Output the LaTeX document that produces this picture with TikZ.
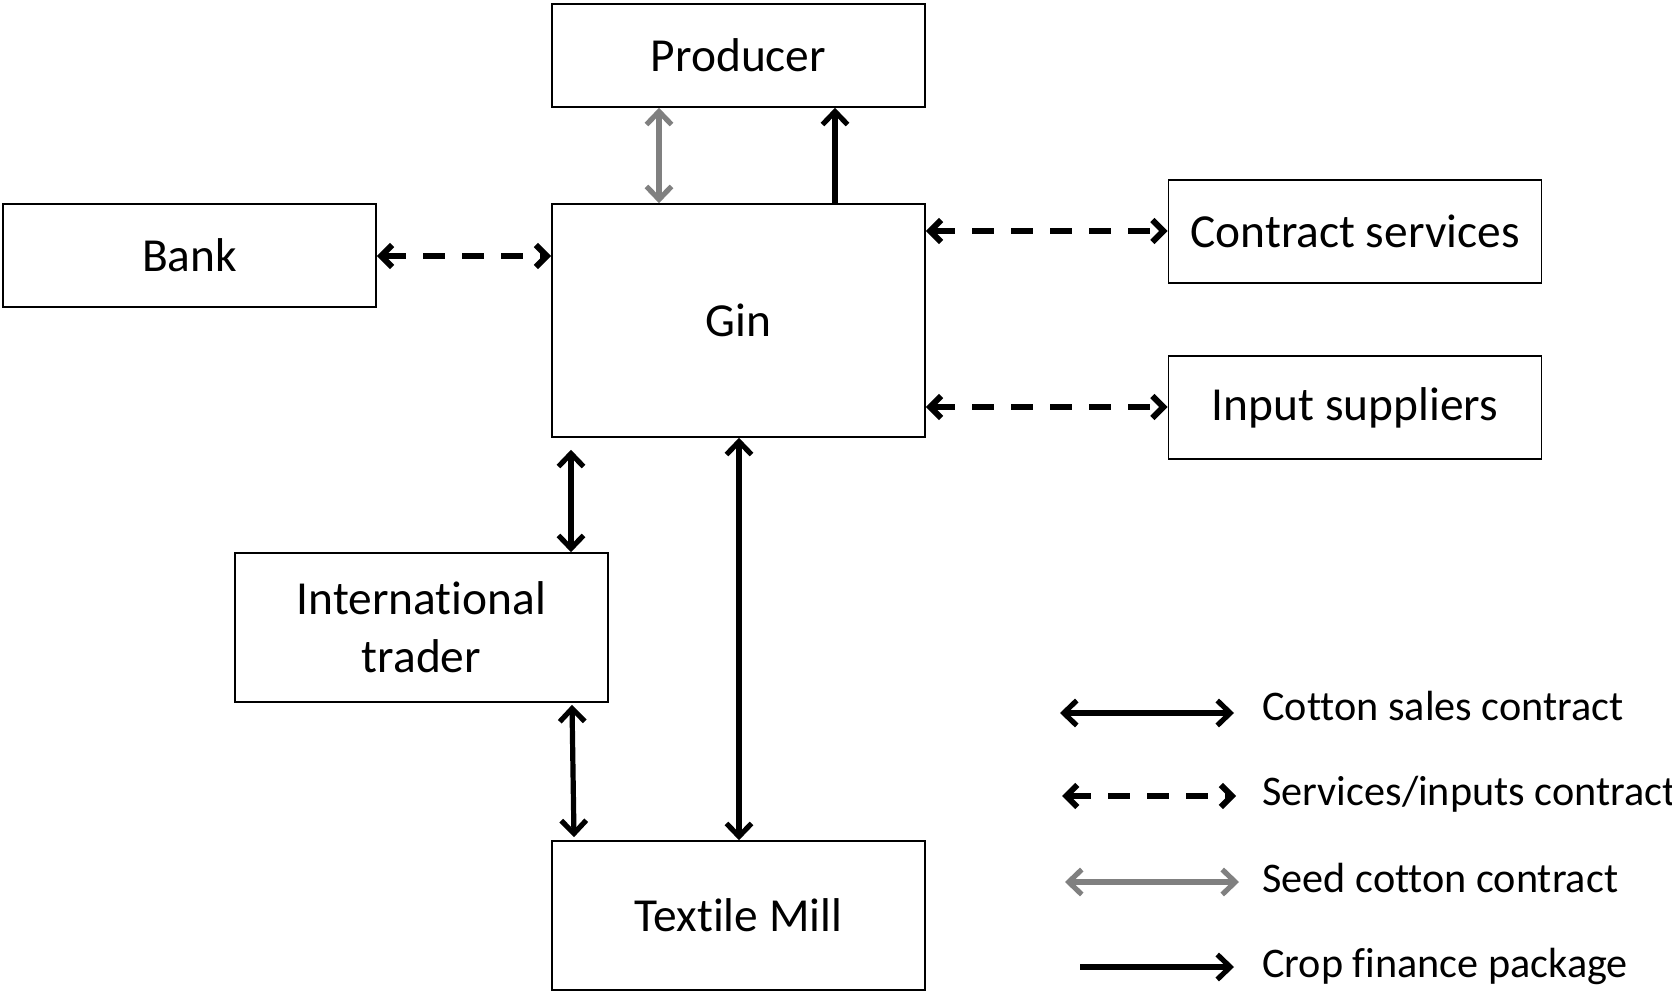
\documentclass[tikz,border=0pt]{standalone}
\usepackage{fontspec}
\setmainfont{Carlito}[Ligatures=NoCommon, RawFeature={-liga;-clig}]
\usetikzlibrary{arrows.meta,calc}
\definecolor{seedgray}{HTML}{808080}
\tikzset{
  box/.style={draw=black, line width=0.8pt, fill=white, inner sep=0pt, align=center, font=\fontsize{23.7}{28.8}\selectfont},
  wbox/.style={minimum width=186.5pt},
  sales/.style={line width=2.6pt, {Straight Barb[length=6.5pt,width=12.5pt]}-{Straight Barb[length=6.5pt,width=12.5pt]}},
  services/.style={line width=3pt, dash pattern=on 11pt off 8.5pt, {Straight Barb[length=5.5pt,width=11pt]}-{Straight Barb[length=5.5pt,width=11pt]}},
  seed/.style={line width=2.6pt, draw=seedgray, {Straight Barb[length=6.5pt,width=12.5pt]}-{Straight Barb[length=6.5pt,width=12.5pt]}},
  finance/.style={line width=2.6pt, -{Straight Barb[length=6.5pt,width=12.5pt]}},
  legtext/.style={anchor=base west, inner sep=0pt, font=\fontsize{21.1}{25}\selectfont}
}
\begin{document}
\begin{tikzpicture}[x=0.5pt,y=-0.5pt]
\useasboundingbox (0,0) rectangle (1672,994);
% boxes
\node[box, wbox, minimum height=51.5pt] (producer) at (738.5,55.5) {Producer};
\node[box, wbox, minimum height=116.5pt] (gin) at (738.5,320.5) {Gin};
\node[box, wbox, minimum height=51.5pt] (bank) at (189.5,255.5) {Bank};
\node[box, wbox, minimum height=51.5pt] (cs) at (1355,231.5) {Contract services};
\node[box, wbox, minimum height=51.5pt] (input) at (1355,407.5) {Input suppliers};
\node[box, wbox, minimum height=74.5pt] (trader) at (421.5,627.5) {International\\trader};
\node[box, wbox, minimum height=74.5pt] (mill) at (738.5,915.5) {Textile Mill};
% connectors
\draw[seed] (producer.south -| 659,0) -- (gin.north -| 659,0);
\draw[finance] (gin.north -| 835,0) -- (producer.south -| 835,0);
\draw[services] (bank.east |- 0,256) -- (gin.west |- 0,256);
\draw[services] (gin.east |- 0,231) -- (cs.west |- 0,231);
\draw[services] (gin.east |- 0,407) -- (input.west |- 0,407);
\draw[sales] ([yshift=-6pt]gin.south -| 571,0) -- (trader.north -| 571,0);
\draw[sales] ([yshift=-1pt]trader.south -| 572,0) -- ([yshift=1.5pt]mill.north -| 574,0);
\draw[sales] (gin.south -| 739,0) -- (mill.north -| 739,0);
% legend
\coordinate (l1a) at (1060,713); \coordinate (l1b) at (1234,713);
\coordinate (l2a) at (1062,796); \coordinate (l2b) at (1236,796);
\coordinate (l3a) at (1065,882); \coordinate (l3b) at (1239,882);
\coordinate (l4a) at (1080,967); \coordinate (l4b) at (1234,967);
\draw[sales] (l1a) -- (l1b);
\draw[services] (l2a) -- (l2b);
\draw[seed] (l3a) -- (l3b);
\draw[finance] (l4a) -- (l4b);
\node[legtext] (t1) at (1262,720) {Cotton sales contract};
\node[legtext] (t2) at (1262,805) {Services/inputs contract};
\node[legtext] (t3) at (1262,892) {Seed cotton contract};
\node[legtext] (t4) at (1262,977) {Crop finance package};
\end{tikzpicture}
\end{document}
